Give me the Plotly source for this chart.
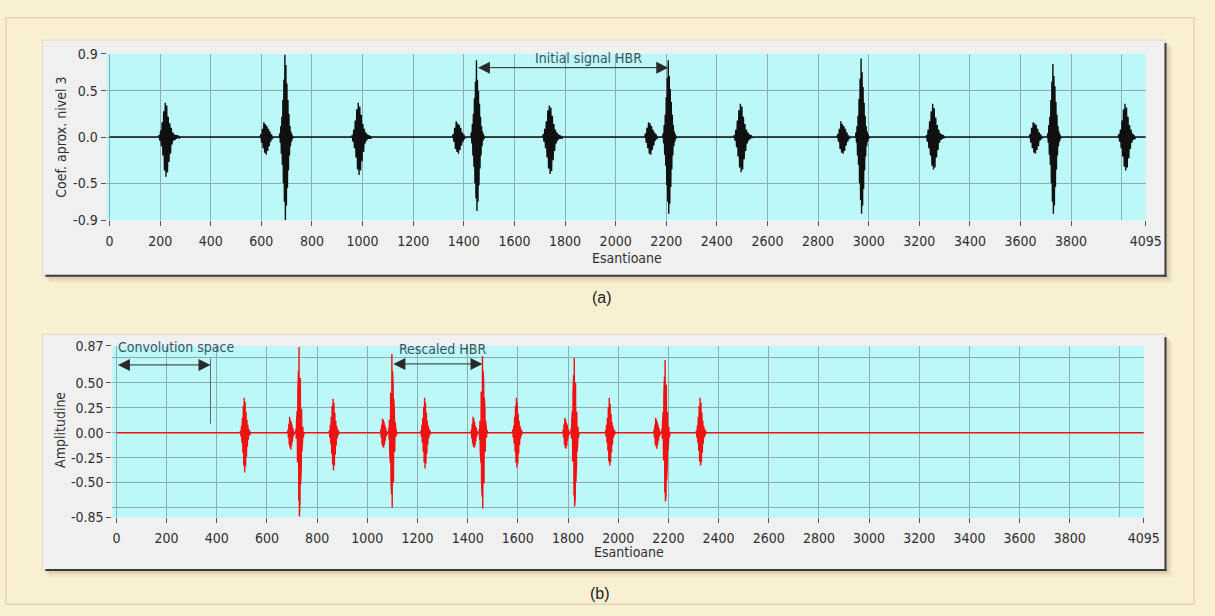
import plotly.graph_objects as go

W, H = 1215, 616

# ---------------- data: top panel (approximation coefficients, level 3) ----------------
X_END = 4095

top_p_starts = [598, 1358, 2118, 2878, 3638]
top_p_step = 3
top_p_bursts = [
    [0.03, -0.06, 0.09, -0.12, 0.16, -0.17, 0.14, -0.19, 0.12, -0.15, 0.09, -0.10, 0.06, -0.05, 0.03, -0.02],
    [0.03, -0.05, 0.10, -0.13, 0.17, -0.16, 0.15, -0.18, 0.13, -0.14, 0.10, -0.09, 0.05, -0.05, 0.03, -0.02],
    [0.04, -0.06, 0.10, -0.12, 0.16, -0.18, 0.15, -0.19, 0.12, -0.14, 0.08, -0.09, 0.05, -0.04, 0.03, -0.02],
    [0.03, -0.05, 0.09, -0.13, 0.17, -0.17, 0.14, -0.18, 0.12, -0.15, 0.09, -0.09, 0.05, -0.05, 0.02, -0.02],
    [0.03, -0.06, 0.10, -0.12, 0.16, -0.17, 0.15, -0.18, 0.13, -0.14, 0.09, -0.10, 0.05, -0.04, 0.03, -0.02],
]

top_qrs_starts = [673, 1430, 2188, 2950, 3708]
top_qrs_step = 2
top_qrs_peak_index = 10
top_qrs_bursts = [
    [0.04, -0.06, 0.12, -0.18, 0.22, -0.30, 0.40, -0.50, 0.62, -0.70, 0.89, -0.90, 0.78, -0.74, 0.58, -0.55, 0.40, -0.36, 0.25, -0.20, 0.12, -0.10, 0.06, -0.05, 0.03, -0.02],
    [0.05, -0.07, 0.14, -0.20, 0.25, -0.32, 0.42, -0.50, 0.60, -0.66, 0.83, -0.80, 0.62, -0.70, 0.50, -0.52, 0.36, -0.34, 0.22, -0.20, 0.12, -0.10, 0.06, -0.04, 0.03, -0.02],
    [0.04, -0.07, 0.13, -0.19, 0.24, -0.31, 0.43, -0.52, 0.64, -0.70, 0.83, -0.83, 0.66, -0.72, 0.52, -0.54, 0.38, -0.35, 0.24, -0.20, 0.13, -0.10, 0.06, -0.05, 0.03, -0.02],
    [0.05, -0.06, 0.12, -0.20, 0.23, -0.30, 0.41, -0.50, 0.63, -0.68, 0.85, -0.83, 0.70, -0.74, 0.54, -0.56, 0.37, -0.36, 0.23, -0.21, 0.12, -0.10, 0.06, -0.05, 0.03, -0.02],
    [0.04, -0.06, 0.13, -0.19, 0.22, -0.30, 0.40, -0.50, 0.60, -0.70, 0.79, -0.83, 0.66, -0.74, 0.55, -0.54, 0.38, -0.35, 0.24, -0.20, 0.12, -0.10, 0.06, -0.05, 0.03, -0.02],
]

top_t_starts = [196, 959, 1714, 2469, 3229, 3989]
top_t_step = 3
top_t_bursts = [
    [0.02, -0.04, 0.07, -0.10, 0.16, -0.20, 0.28, -0.36, 0.37, -0.43, 0.34, -0.38, 0.22, -0.27, 0.15, -0.18, 0.10, -0.08, 0.05, -0.04, 0.03, -0.03, 0.02, -0.02, 0.02, -0.01, 0.01, -0.01],
    [0.02, -0.05, 0.08, -0.12, 0.18, -0.22, 0.30, -0.35, 0.37, -0.41, 0.33, -0.36, 0.24, -0.26, 0.14, -0.16, 0.09, -0.07, 0.05, -0.04, 0.03, -0.02, 0.02, -0.02, 0.01, -0.01],
    [0.03, -0.05, 0.09, -0.12, 0.17, -0.22, 0.29, -0.34, 0.34, -0.40, 0.32, -0.37, 0.23, -0.25, 0.14, -0.15, 0.08, -0.07, 0.05, -0.04, 0.03, -0.02, 0.02, -0.02, 0.01, -0.01],
    [0.02, -0.04, 0.08, -0.11, 0.18, -0.21, 0.29, -0.33, 0.36, -0.38, 0.33, -0.35, 0.22, -0.24, 0.14, -0.15, 0.08, -0.07, 0.05, -0.04, 0.03, -0.02, 0.02, -0.01],
    [0.02, -0.05, 0.08, -0.12, 0.17, -0.20, 0.28, -0.31, 0.36, -0.35, 0.31, -0.33, 0.21, -0.22, 0.13, -0.14, 0.08, -0.06, 0.04, -0.03, 0.03, -0.02, 0.02, -0.01],
    [0.03, -0.05, 0.08, -0.12, 0.18, -0.21, 0.30, -0.32, 0.36, -0.36, 0.32, -0.33, 0.22, -0.23, 0.13, -0.13, 0.08, -0.06, 0.04, -0.03, 0.02, -0.02],
]

# ---------------- data: bottom panel (rescaled signal) ----------------
bot_p_starts = [684, 1054, 1415, 1781, 2143]
bot_p_step = 1.6
bot_p_bursts = [
    [0.03, -0.05, 0.09, -0.12, 0.16, -0.15, 0.13, -0.17, 0.11, -0.13, 0.08, -0.09, 0.05, -0.04, 0.02, -0.02],
    [0.03, -0.05, 0.08, -0.12, 0.14, -0.14, 0.13, -0.15, 0.11, -0.12, 0.08, -0.08, 0.05, -0.04, 0.02, -0.02],
    [0.03, -0.06, 0.09, -0.11, 0.16, -0.14, 0.14, -0.15, 0.11, -0.13, 0.07, -0.09, 0.05, -0.04, 0.02, -0.02],
    [0.03, -0.05, 0.09, -0.12, 0.15, -0.15, 0.13, -0.16, 0.10, -0.13, 0.08, -0.08, 0.04, -0.04, 0.02, -0.02],
    [0.03, -0.05, 0.08, -0.12, 0.15, -0.14, 0.13, -0.16, 0.11, -0.12, 0.08, -0.08, 0.05, -0.04, 0.02, -0.02],
]

bot_qrs_starts = [715.5, 1085.5, 1446.5, 1812.5, 2174.5]
bot_qrs_step = 1.25
bot_qrs_peak_index = 10
bot_qrs_bursts = [
    [0.04, -0.06, 0.12, -0.18, 0.22, -0.30, 0.40, -0.50, 0.62, -0.68, 0.86, -0.84, 0.74, -0.70, 0.55, -0.52, 0.38, -0.34, 0.24, -0.19, 0.12, -0.10, 0.06, -0.05, 0.03, -0.02],
    [0.05, -0.07, 0.13, -0.19, 0.24, -0.30, 0.40, -0.48, 0.58, -0.62, 0.79, -0.75, 0.62, -0.66, 0.48, -0.50, 0.34, -0.32, 0.21, -0.19, 0.11, -0.10, 0.06, -0.04, 0.03, -0.02],
    [0.04, -0.07, 0.12, -0.18, 0.23, -0.30, 0.41, -0.49, 0.60, -0.64, 0.77, -0.76, 0.62, -0.68, 0.49, -0.51, 0.35, -0.33, 0.22, -0.19, 0.12, -0.10, 0.06, -0.05, 0.03, -0.02],
    [0.05, -0.06, 0.12, -0.19, 0.22, -0.29, 0.40, -0.48, 0.58, -0.63, 0.75, -0.74, 0.63, -0.66, 0.50, -0.50, 0.34, -0.33, 0.21, -0.19, 0.11, -0.10, 0.06, -0.05, 0.03, -0.02],
    [0.04, -0.06, 0.12, -0.18, 0.21, -0.28, 0.38, -0.46, 0.56, -0.60, 0.73, -0.69, 0.60, -0.62, 0.48, -0.48, 0.33, -0.31, 0.21, -0.18, 0.11, -0.09, 0.06, -0.05, 0.03, -0.02],
]

bot_t_starts = [495, 849, 1214, 1580, 1950, 2312]
bot_t_step = 1.8
bot_t_bursts = [
    [0.02, -0.04, 0.07, -0.10, 0.15, -0.20, 0.27, -0.33, 0.35, -0.40, 0.31, -0.34, 0.21, -0.24, 0.13, -0.14, 0.08, -0.07, 0.04, -0.03, 0.02, -0.02],
    [0.02, -0.05, 0.08, -0.11, 0.16, -0.21, 0.27, -0.32, 0.34, -0.38, 0.30, -0.33, 0.20, -0.22, 0.12, -0.13, 0.07, -0.06, 0.04, -0.03, 0.02, -0.01],
    [0.02, -0.04, 0.08, -0.10, 0.15, -0.19, 0.26, -0.30, 0.35, -0.36, 0.30, -0.31, 0.20, -0.21, 0.12, -0.12, 0.07, -0.06, 0.04, -0.03, 0.02, -0.01],
    [0.03, -0.05, 0.07, -0.11, 0.16, -0.19, 0.27, -0.30, 0.35, -0.35, 0.30, -0.31, 0.19, -0.21, 0.12, -0.12, 0.07, -0.06, 0.04, -0.03, 0.02, -0.01],
    [0.02, -0.04, 0.08, -0.10, 0.15, -0.18, 0.26, -0.29, 0.35, -0.33, 0.29, -0.30, 0.19, -0.20, 0.11, -0.12, 0.07, -0.05, 0.04, -0.03, 0.02, -0.01],
    [0.02, -0.05, 0.07, -0.10, 0.16, -0.18, 0.27, -0.29, 0.35, -0.33, 0.30, -0.30, 0.20, -0.20, 0.12, -0.11, 0.07, -0.05, 0.04, -0.03, 0.02, -0.01],
]

conv_space_end = 375  # end of convolution space (samples)

# ---------------- tick labels ----------------
x_tickvals = [0, 200, 400, 600, 800, 1000, 1200, 1400, 1600, 1800, 2000, 2200, 2400,
              2600, 2800, 3000, 3200, 3400, 3600, 3800, 4095]
x_ticktext = [str(v) for v in x_tickvals]
x_grid_extra = [4000]
top_y_tickvals = [-0.9, -0.5, 0.0, 0.5, 0.9]
top_y_ticktext = ["-0.9", "-0.5", "0.0", "0.5", "0.9"]
bot_y_tickvals = [-0.85, -0.5, -0.25, 0.0, 0.25, 0.5, 0.87]
bot_y_ticktext = ["-0.85", "-0.50", "-0.25", "0.00", "0.25", "0.50", "0.87"]
bot_y_grid_extra = [-0.75, 0.75]


def build(groups, x_end):
    segs = []
    for starts, step, bursts in groups:
        for s, vals in zip(starts, bursts):
            segs.append((s, step, vals))
    segs.sort(key=lambda t: t[0])
    xs, ys = [0.0], [0.0]
    for s, step, vals in segs:
        xs.append(s - step); ys.append(0.0)
        for i, v in enumerate(vals):
            xs.append(s + i * step); ys.append(v)
        xs.append(s + len(vals) * step); ys.append(0.0)
    xs.append(x_end); ys.append(0.0)
    return xs, ys


tx, ty = build([(top_p_starts, top_p_step, top_p_bursts),
                (top_qrs_starts, top_qrs_step, top_qrs_bursts),
                (top_t_starts, top_t_step, top_t_bursts)], X_END)
bx, by = build([(bot_p_starts, bot_p_step, bot_p_bursts),
                (bot_qrs_starts, bot_qrs_step, bot_qrs_bursts),
                (bot_t_starts, bot_t_step, bot_t_bursts)], X_END)

top_peaks = [s + top_qrs_peak_index * top_qrs_step for s in top_qrs_starts]
bot_peaks = [s + bot_qrs_peak_index * bot_qrs_step for s in bot_qrs_starts]

# ---------------- styling ----------------
CREAM = "#f9efd1"
PANEL = "#f1f0f1"
CYAN = "#bcf8f8"
GRID = "#8aaeb3"
TXT = "#2f2f2f"
NOTE = "#3a5560"
NARROW = "Liberation Sans Narrow, Arial Narrow, DejaVu Sans Condensed, Liberation Sans, Arial, sans-serif"
SANS = "Liberation Sans, Arial, sans-serif"
TF = dict(family=NARROW, size=14, color=TXT)


def px(x):
    return x / W


def py(y):
    return 1 - y / H


fig = go.Figure()
fig.add_trace(go.Scatter(x=tx, y=ty, mode="lines", line=dict(color="#101010", width=1.4),
                         xaxis="x", yaxis="y", hoverinfo="skip", showlegend=False))
fig.add_trace(go.Scatter(x=bx, y=by, mode="lines", line=dict(color="#f01212", width=1.4),
                         xaxis="x2", yaxis="y2", hoverinfo="skip", showlegend=False))

xcommon = dict(tickmode="array", tickvals=x_tickvals, ticktext=x_ticktext,
               ticks="outside", ticklen=5, tickwidth=1, tickcolor="#555",
               tickfont=TF, showline=False, zeroline=False,
               showgrid=True, gridcolor=GRID, gridwidth=1,
               minor=dict(tickvals=x_grid_extra, showgrid=True, gridcolor=GRID, gridwidth=1, ticks=""),
               fixedrange=True, ticklabelstandoff=3)

fig.update_layout(
    width=W, height=H, autosize=False,
    margin=dict(l=0, r=0, t=0, b=0),
    paper_bgcolor=CREAM, plot_bgcolor=CYAN,
    showlegend=False,
    xaxis=dict(xcommon, domain=[px(107), px(1161)], range=[-12, X_END], anchor="y"),
    yaxis=dict(domain=[py(218), py(47)], range=[-0.9, 0.9], anchor="x",
               tickmode="array", tickvals=top_y_tickvals, ticktext=top_y_ticktext,
               ticks="outside", ticklen=5, tickwidth=1, tickcolor="#555", tickfont=TF,
               showline=False, zeroline=False, showgrid=True, gridcolor=GRID, gridwidth=1),
    xaxis2=dict(xcommon, domain=[px(113), px(1159)], range=[-16, X_END], anchor="y2"),
    yaxis2=dict(domain=[py(523), py(347)], range=[-0.85, 0.87], anchor="x2",
                tickmode="array", tickvals=bot_y_tickvals, ticktext=bot_y_ticktext,
                ticks="outside", ticklen=5, tickwidth=1, tickcolor="#555", tickfont=TF,
                showline=False, zeroline=False, showgrid=True, gridcolor=GRID, gridwidth=1,
                minor=dict(tickvals=bot_y_grid_extra, showgrid=True, gridcolor=GRID, gridwidth=1, ticks="")),
)

shapes = []
# outer frame
shapes.append(dict(type="rect", xref="paper", yref="paper", x0=px(5), x1=px(1210), y0=py(612), y1=py(10),
                   line=dict(color="#d6c9a4", width=1), fillcolor="rgba(0,0,0,0)", layer="below"))
for (x0, y0, x1, y1) in [(42, 33, 1181, 275), (42, 335, 1181, 577)]:
    # soft shadow
    for k, a in [(7, 0.05), (5, 0.07), (3, 0.10)]:
        shapes.append(dict(type="rect", xref="paper", yref="paper", x0=px(x0 + k), x1=px(x1 + k),
                           y0=py(y1 + k), y1=py(y0 + k), line=dict(width=0),
                           fillcolor=f"rgba(110,90,50,{a})", layer="below"))
    shapes.append(dict(type="rect", xref="paper", yref="paper", x0=px(x0), x1=px(x1), y0=py(y1), y1=py(y0),
                       line=dict(color="#dcd8d8", width=1), fillcolor=PANEL, layer="below"))
    shapes.append(dict(type="line", xref="paper", yref="paper", x0=px(x1), x1=px(x1), y0=py(y1 + 1), y1=py(y0 + 3),
                       line=dict(color="#3a3a3a", width=2), layer="below"))
    shapes.append(dict(type="line", xref="paper", yref="paper", x0=px(x0 + 3), x1=px(x1 + 1), y0=py(y1), y1=py(y1),
                       line=dict(color="#3a3a3a", width=2), layer="below"))
# cyan plot areas (drawn inside each subplot, under grid and data)
for xr, yr in [("x domain", "y domain"), ("x2 domain", "y2 domain")]:
    shapes.append(dict(type="rect", xref=xr, yref=yr, x0=0, x1=1, y0=0, y1=1,
                       line=dict(width=0), fillcolor=CYAN, layer="below"))
# convolution-space marker line
shapes.append(dict(type="line", xref="x2", yref="y2", x0=conv_space_end, x1=conv_space_end, y0=0.09, y1=0.745,
                   line=dict(color="#5b6a70", width=1)))
fig.update_layout(shapes=shapes)

ann = []
C = dict(xanchor="center", yanchor="middle", showarrow=False)
# axis titles
ann.append(dict(C, text="Coef. aprox. nivel 3", xref="paper", yref="paper", x=px(60), y=py(133),
                textangle=-90, font=dict(family=NARROW, size=14, color=TXT)))
ann.append(dict(C, text="Amplitudine", xref="paper", yref="paper", x=px(60), y=py(433),
                textangle=-90, font=dict(family=NARROW, size=14, color=TXT)))
ann.append(dict(C, text="Esantioane", xref="paper", yref="paper", x=px(635), y=py(257),
                font=dict(family=NARROW, size=14, color=TXT)))
ann.append(dict(C, text="Esantioane", xref="paper", yref="paper", x=px(637), y=py(558),
                font=dict(family=NARROW, size=14, color=TXT)))
# captions
ann.append(dict(C, text="(a)", xref="paper", yref="paper", x=px(610), y=py(297),
                font=dict(family=SANS, size=16, color="#222")))
ann.append(dict(C, text="(b)", xref="paper", yref="paper", x=px(607), y=py(601),
                font=dict(family=SANS, size=16, color="#222")))
# top note + arrow between HBR peaks
ann.append(dict(C, text="Initial signal HBR", xref="x", yref="y",
                x=(top_peaks[1] + top_peaks[2]) / 2 + 65, y=0.85,
                font=dict(family=NARROW, size=14, color=NOTE)))
ann.append(dict(text="", xref="x", yref="y", axref="x", ayref="y",
                x=top_peaks[2], y=0.75, ax=top_peaks[1], ay=0.75,
                showarrow=True, arrowside="end+start", arrowhead=2, arrowsize=2.4,
                arrowwidth=1, arrowcolor="#2a2a2a", standoff=0, startstandoff=0))
# bottom notes + arrows
ann.append(dict(text="Convolution space", xref="x2", yref="y2", x=0, y=0.86, xanchor="left", yanchor="middle",
                showarrow=False, font=dict(family=NARROW, size=14, color=NOTE)))
ann.append(dict(text="", xref="x2", yref="y2", axref="x2", ayref="y2",
                x=conv_space_end, y=0.68, ax=0, ay=0.68,
                showarrow=True, arrowside="end+start", arrowhead=2, arrowsize=2.4,
                arrowwidth=1, arrowcolor="#2a2a2a", standoff=0, startstandoff=0))
ann.append(dict(C, text="Rescaled HBR", xref="x2", yref="y2", x=(bot_peaks[1] + bot_peaks[2]) / 2 + 20, y=0.84,
                font=dict(family=NARROW, size=14, color=NOTE)))
ann.append(dict(text="", xref="x2", yref="y2", axref="x2", ayref="y2",
                x=bot_peaks[2], y=0.69, ax=bot_peaks[1], ay=0.69,
                showarrow=True, arrowside="end+start", arrowhead=2, arrowsize=2.4,
                arrowwidth=1, arrowcolor="#2a2a2a", standoff=0, startstandoff=0))
fig.update_layout(annotations=ann)

fig.write_html("out.html")
